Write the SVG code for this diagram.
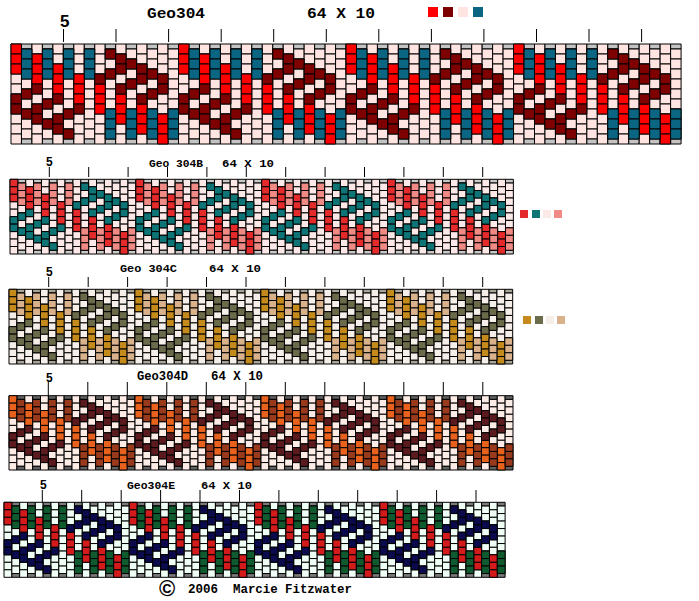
<svg xmlns="http://www.w3.org/2000/svg" xmlns:xlink="http://www.w3.org/1999/xlink" width="699" height="601" viewBox="0 0 699 601">
<style>
rect{vector-effect:non-scaling-stroke}
.pn{stroke:#000;stroke-width:1px}
.p{fill:var(--p)} .r{fill:var(--r)} .b{fill:var(--b)} .m{fill:var(--m)} .cap{fill:var(--g)}
.lg{stroke:none}
.tk{stroke:#000;stroke-width:1;fill:none}
.t{font-family:"Liberation Mono","DejaVu Sans Mono",monospace;font-weight:bold;fill:#000}
.n{font-family:"Liberation Sans",Arial,sans-serif;font-weight:bold;fill:#000}
</style>
<defs>
<g id="E" class="p"><rect y="0" width="1" height="1"/><rect y="1" width="1" height="1"/><rect y="2" width="1" height="1"/><rect y="3" width="1" height="1"/><rect y="4" width="1" height="1"/><rect y="5" width="1" height="1"/><rect y="6" width="1" height="1"/><rect y="7" width="1" height="1"/><rect y="8" width="1" height="1"/><rect y="9" width="1" height="1"/></g>
<g id="O"><rect class="cap" y="0" width="1" height=".5"/><g class="p"><rect y=".5" width="1" height="1"/><rect y="1.5" width="1" height="1"/><rect y="2.5" width="1" height="1"/><rect y="3.5" width="1" height="1"/><rect y="4.5" width="1" height="1"/><rect y="5.5" width="1" height="1"/><rect y="6.5" width="1" height="1"/><rect y="7.5" width="1" height="1"/><rect y="8.5" width="1" height="1"/></g><rect class="cap" y="9.5" width="1" height=".5"/></g>
<g id="R">
<use href="#E" x="0"/><use href="#O" x="1"/><use href="#E" x="2"/><use href="#O" x="3"/><use href="#E" x="4"/><use href="#O" x="5"/><use href="#E" x="6"/><use href="#O" x="7"/><use href="#E" x="8"/><use href="#O" x="9"/><use href="#E" x="10"/><use href="#O" x="11"/><use href="#E" x="12"/><use href="#O" x="13"/><use href="#E" x="14"/><use href="#O" x="15"/>
<g class="r">
<rect x="0" y="0" width="1" height="1"/><rect x="0" y="1" width="1" height="1"/><rect x="0" y="2" width="1" height="1"/>
<rect x="2" y="1" width="1" height="1"/><rect x="2" y="2" width="1" height="1"/><rect x="2" y="3" width="1" height="1"/>
<rect x="4" y="2" width="1" height="1"/><rect x="4" y="3" width="1" height="1"/><rect x="4" y="4" width="1" height="1"/>
<rect x="6" y="3" width="1" height="1"/><rect x="6" y="4" width="1" height="1"/><rect x="6" y="5" width="1" height="1"/>
<rect x="8" y="4" width="1" height="1"/><rect x="8" y="5" width="1" height="1"/><rect x="8" y="6" width="1" height="1"/>
<rect x="10" y="5" width="1" height="1"/><rect x="10" y="6" width="1" height="1"/><rect x="10" y="7" width="1" height="1"/>
<rect x="12" y="6" width="1" height="1"/><rect x="12" y="7" width="1" height="1"/><rect x="12" y="8" width="1" height="1"/>
<rect x="14" y="7" width="1" height="1"/><rect x="14" y="8" width="1" height="1"/><rect x="14" y="9" width="1" height="1"/>
</g>
<g class="b">
<rect x="1" y=".5" width="1" height="1"/><rect x="1" y="1.5" width="1" height="1"/><rect x="1" y="2.5" width="1" height="1"/>
<rect x="3" y=".5" width="1" height="1"/><rect x="3" y="1.5" width="1" height="1"/><rect x="3" y="2.5" width="1" height="1"/>
<rect x="5" y=".5" width="1" height="1"/><rect x="5" y="1.5" width="1" height="1"/><rect x="5" y="2.5" width="1" height="1"/>
<rect x="7" y=".5" width="1" height="1"/><rect x="7" y="1.5" width="1" height="1"/><rect x="7" y="2.5" width="1" height="1"/>
<rect x="9" y="6.5" width="1" height="1"/><rect x="9" y="7.5" width="1" height="1"/><rect x="9" y="8.5" width="1" height="1"/>
<rect x="11" y="6.5" width="1" height="1"/><rect x="11" y="7.5" width="1" height="1"/><rect x="11" y="8.5" width="1" height="1"/>
<rect x="13" y="6.5" width="1" height="1"/><rect x="13" y="7.5" width="1" height="1"/><rect x="13" y="8.5" width="1" height="1"/>
<rect x="15" y="6.5" width="1" height="1"/><rect x="15" y="7.5" width="1" height="1"/><rect x="15" y="8.5" width="1" height="1"/>
</g>
<g class="m">
<rect x="0" y="5" width="1" height="1"/><rect x="0" y="6" width="1" height="1"/>
<rect x="1" y="4.5" width="1" height="1"/><rect x="1" y="6.5" width="1" height="1"/>
<rect x="2" y="4" width="1" height="1"/><rect x="2" y="6" width="1" height="1"/><rect x="2" y="7" width="1" height="1"/>
<rect x="3" y="5.5" width="1" height="1"/><rect x="3" y="7.5" width="1" height="1"/>
<rect x="4" y="5" width="1" height="1"/><rect x="4" y="7" width="1" height="1"/><rect x="4" y="8" width="1" height="1"/>
<rect x="5" y="6.5" width="1" height="1"/><rect x="5" y="8.5" width="1" height="1"/>
<rect x="6" y="6" width="1" height="1"/>
<rect x="8" y="3" width="1" height="1"/>
<rect x="9" y=".5" width="1" height="1"/><rect x="9" y="2.5" width="1" height="1"/>
<rect x="10" y="1" width="1" height="1"/><rect x="10" y="2" width="1" height="1"/><rect x="10" y="4" width="1" height="1"/>
<rect x="11" y="1.5" width="1" height="1"/><rect x="11" y="3.5" width="1" height="1"/>
<rect x="12" y="2" width="1" height="1"/><rect x="12" y="3" width="1" height="1"/><rect x="12" y="5" width="1" height="1"/>
<rect x="13" y="2.5" width="1" height="1"/><rect x="13" y="4.5" width="1" height="1"/>
<rect x="14" y="3" width="1" height="1"/><rect x="14" y="4" width="1" height="1"/>
</g>
</g>
</defs>
<rect width="699" height="601" fill="#fff"/>

<g id="panel1">
<text class="n" x="60" y="27" font-size="17">5</text>
<text class="t" x="147" y="18" font-size="14" textLength="58" lengthAdjust="spacingAndGlyphs">Geo304</text>
<text class="t" x="307" y="18" font-size="14" textLength="68" lengthAdjust="spacingAndGlyphs">64 X 10</text>
<g class="lg"><rect x="428" y="7" width="10" height="10" fill="#ff0000"/><rect x="443" y="7" width="10" height="10" fill="#7f0000"/><rect x="458" y="7" width="10" height="10" fill="#ffe4e1"/><rect x="473" y="7" width="10" height="10" fill="#0b6683"/></g>
<path class="tk" d="M63.5 29V42M116 29V42M168.6 29V42M221.2 29V42M273.7 29V42M326.3 29V42M378.8 29V42M431.4 29V42M483.9 29V42M536.5 29V42M589 29V42M641.6 29V42"/>
<g class="pn" transform="translate(11,44) scale(10.47,10)" style="--p:#ffe4e1;--r:#ff0000;--b:#0b6683;--m:#7f0000;--g:#c4c4c4"><use href="#R"/><use href="#R" x="16"/><use href="#R" x="32"/><use href="#R" x="48"/></g>
</g>

<g id="panel2">
<text class="n" x="46" y="166" font-size="12">5</text>
<text class="t" x="149" y="167" font-size="11" textLength="54" lengthAdjust="spacingAndGlyphs">Geo 304B</text>
<text class="t" x="222" y="167" font-size="11" textLength="52" lengthAdjust="spacingAndGlyphs">64 X 10</text>
<g class="lg"><rect x="520" y="210" width="8" height="8" fill="#e42a2a"/><rect x="532" y="210" width="8" height="8" fill="#0e7476"/><rect x="543" y="210" width="8" height="8" fill="#fde8e8"/><rect x="554" y="210" width="8" height="8" fill="#f08a84"/></g>
<path class="tk" d="M49.3 167V177M88.7 167V177M128.1 167V177M167.5 167V177M206.9 167V177M246.3 167V177M285.7 167V177M325.1 167V177M364.5 167V177M403.9 167V177M443.3 167V177M482.7 167V177"/>
<g class="pn" transform="translate(10,179.3) scale(7.865,7.47)" style="--p:#fde8e8;--r:#e42a2a;--b:#f08a84;--m:#0e7476;--g:#c8c8c8"><use href="#R"/><use href="#R" x="16"/><use href="#R" x="32"/><use href="#R" x="48"/></g>
</g>

<g id="panel3">
<text class="n" x="46" y="276" font-size="12">5</text>
<text class="t" x="120" y="272" font-size="11" textLength="57" lengthAdjust="spacingAndGlyphs">Geo 304C</text>
<text class="t" x="209" y="272" font-size="11" textLength="52" lengthAdjust="spacingAndGlyphs">64 X 10</text>
<g class="lg"><rect x="523" y="316" width="8" height="8" fill="#c48a1c"/><rect x="535" y="316" width="8" height="8" fill="#6b6a4a"/><rect x="546" y="316" width="8" height="8" fill="#f6eee9"/><rect x="557" y="316" width="8" height="8" fill="#d9b28c"/></g>
<path class="tk" d="M48.7 277V287M88.2 277V287M127.6 277V287M167.1 277V287M206.5 277V287M246 277V287M285.4 277V287M324.9 277V287M364.3 277V287M403.8 277V287M443.2 277V287M482.7 277V287"/>
<g class="pn" transform="translate(9,289.3) scale(7.87,7.47)" style="--p:#f6eee9;--r:#c48a1c;--b:#d9b28c;--m:#6b6a4a;--g:#a8a498"><use href="#R"/><use href="#R" x="16"/><use href="#R" x="32"/><use href="#R" x="48"/></g>
</g>

<g id="panel4">
<text class="n" x="46" y="382" font-size="12">5</text>
<text class="t" x="137" y="380" font-size="12" textLength="51" lengthAdjust="spacingAndGlyphs">Geo304D</text>
<text class="t" x="211" y="380" font-size="12" textLength="52" lengthAdjust="spacingAndGlyphs">64 X 10</text>
<path class="tk" d="M48.3 382V396M87.8 382V396M127.3 382V396M166.8 382V396M206.3 382V396M245.8 382V396M285.3 382V396M324.8 382V396M364.3 382V396M403.8 382V396M443.3 382V396M482.8 382V396"/>
<g class="pn" transform="translate(9,395.7) scale(7.875,7.43)" style="--p:#fdebe5;--r:#e8621e;--b:#9a3a1c;--m:#5a1a1e;--g:#606060"><use href="#R"/><use href="#R" x="16"/><use href="#R" x="32"/><use href="#R" x="48"/></g>
</g>

<g id="panel5">
<text class="n" x="40" y="489" font-size="12">5</text>
<text class="t" x="127" y="488.5" font-size="11" textLength="48" lengthAdjust="spacingAndGlyphs">Geo304E</text>
<text class="t" x="201" y="489" font-size="11" textLength="51" lengthAdjust="spacingAndGlyphs">64 X 10</text>
<path class="tk" d="M42.3 490V502M81.7 490V502M121.2 490V502M160.6 490V502M200 490V502M239.5 490V502M278.9 490V502M318.3 490V502M357.7 490V502M397.2 490V502M436.6 490V502M476 490V502"/>
<g class="pn" transform="translate(4,502.3) scale(7.83,7.5)" style="--p:#f0fff6;--r:#d41b1b;--b:#0f5b2f;--m:#0a0a4c;--g:#7a7a7a"><use href="#R"/><use href="#R" x="16"/><use href="#R" x="32"/><use href="#R" x="48"/></g>
</g>

<g id="credit">
<text class="n" x="159" y="596" font-size="22" font-weight="normal">©</text>
<text class="t" x="188" y="593" font-size="12" textLength="30" lengthAdjust="spacingAndGlyphs">2006</text>
<text class="t" x="233" y="593" font-size="12" textLength="119" lengthAdjust="spacingAndGlyphs">Marcie Fitzwater</text>
</g>
</svg>
